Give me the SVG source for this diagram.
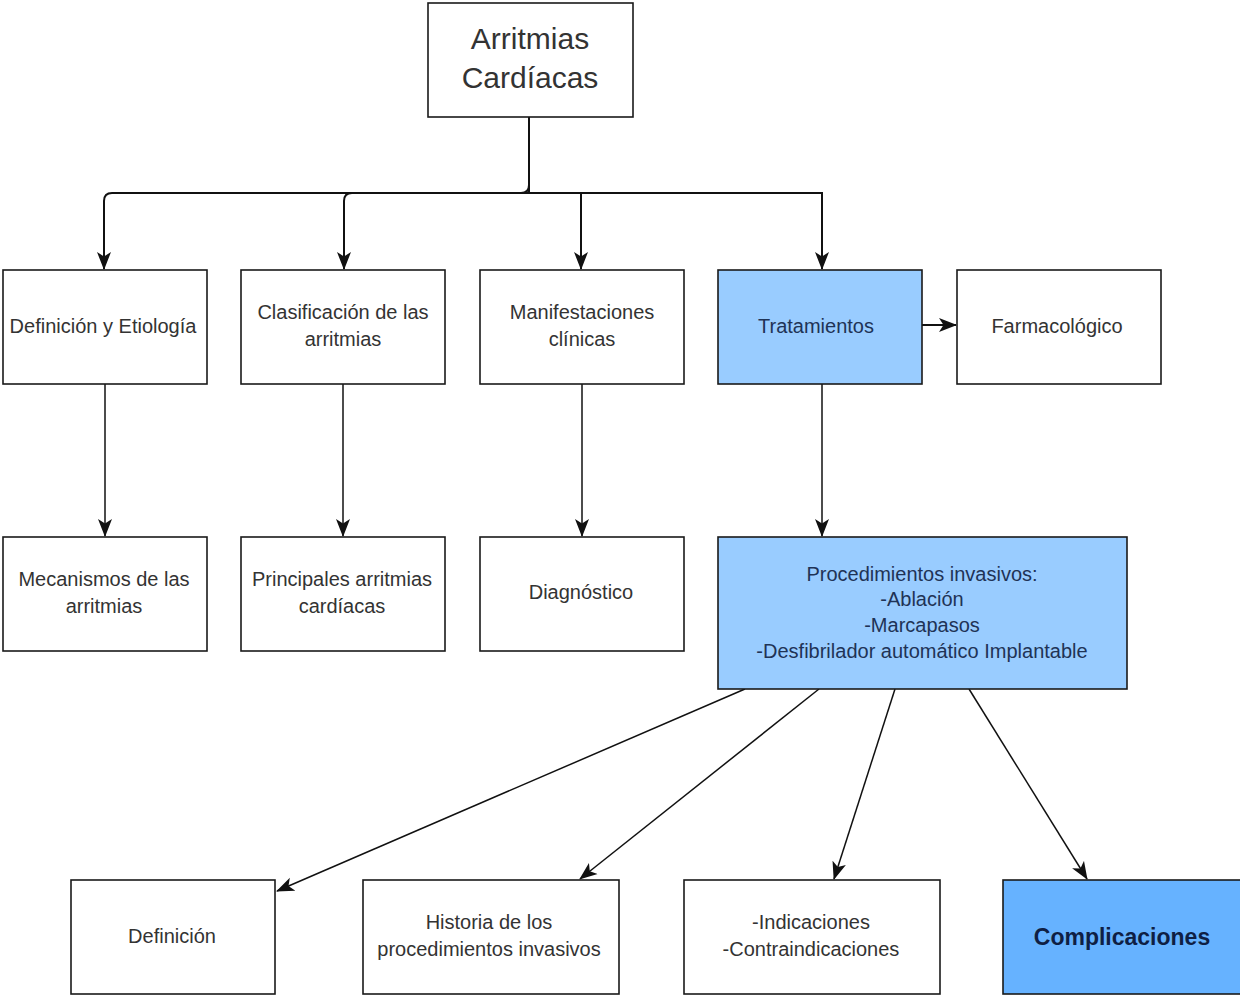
<svg xmlns="http://www.w3.org/2000/svg" width="1240" height="996" viewBox="0 0 1240 996">
<style>
.box{fill:#ffffff;stroke:#1a1a1a;stroke-width:1.6}
.blue{fill:#99ccff;stroke:#1a1a1a;stroke-width:1.6}
.blue2{fill:#66b2ff;stroke:#1a1a1a;stroke-width:1.6}
.t{font-family:"Liberation Sans",Arial,sans-serif;font-size:20px;fill:#333333;text-anchor:middle}
.tb{fill:#1f3356}
.title{font-size:30px}
.bold{font-weight:bold;font-size:23px;fill:#0f1f44}
.edge{fill:none;stroke:#111111;stroke-width:2}
.edge2{fill:none;stroke:#111111;stroke-width:1.5}
</style>
<defs>
<marker id="arr" markerUnits="userSpaceOnUse" markerWidth="18" markerHeight="16" viewBox="0 0 18 16" refX="17" refY="8" orient="auto">
<path d="M0,1 L18,8 L0,15 L4.5,8 z" fill="#111111"/>
</marker>
</defs>
<rect width="1240" height="996" fill="#ffffff"/>
<g id="connectors">
<path class="edge" d="M529,117 V185 Q529,193 521,193 H112 Q104,193 104,201 V269" marker-end="url(#arr)"/>
<path class="edge" d="M529,117 V193 H352 Q344,193 344,201 V269" marker-end="url(#arr)"/>
<path class="edge" d="M529,117 V193 H581 V269" marker-end="url(#arr)"/>
<path class="edge" d="M529,117 V193 H822 V269" marker-end="url(#arr)"/>
<path class="edge" d="M922,325 H956" marker-end="url(#arr)"/>
<path class="edge2" d="M105,384 V536" marker-end="url(#arr)"/>
<path class="edge2" d="M343,384 V536" marker-end="url(#arr)"/>
<path class="edge2" d="M582,384 V536" marker-end="url(#arr)"/>
<path class="edge2" d="M822,384 V536" marker-end="url(#arr)"/>
<path class="edge2" d="M745,689 L277,891" marker-end="url(#arr)"/>
<path class="edge2" d="M819,689 L580,879" marker-end="url(#arr)"/>
<path class="edge2" d="M895,689 L834,879" marker-end="url(#arr)"/>
<path class="edge2" d="M969,689 L1087,879" marker-end="url(#arr)"/>
</g>
<g id="n-root">
<rect class="box" x="428" y="3" width="205" height="114"/>
<text class="t title" x="530" y="49">Arritmias</text>
<text class="t title" x="530" y="88">Cardíacas</text>
</g>
<g id="n-definicion-etiologia">
<rect class="box" x="3" y="270" width="204" height="114"/>
<text class="t" x="103" y="333">Definición y Etiología</text>
</g>
<g id="n-clasificacion">
<rect class="box" x="241" y="270" width="204" height="114"/>
<text class="t" x="343" y="319">Clasificación de las</text>
<text class="t" x="343" y="346">arritmias</text>
</g>
<g id="n-manifestaciones">
<rect class="box" x="480" y="270" width="204" height="114"/>
<text class="t" x="582" y="319">Manifestaciones</text>
<text class="t" x="582" y="346">clínicas</text>
</g>
<g id="n-tratamientos">
<rect class="blue" x="718" y="270" width="204" height="114"/>
<text class="t tb" x="816" y="333">Tratamientos</text>
</g>
<g id="n-farmacologico">
<rect class="box" x="957" y="270" width="204" height="114"/>
<text class="t" x="1057" y="333">Farmacológico</text>
</g>
<g id="n-mecanismos">
<rect class="box" x="3" y="537" width="204" height="114"/>
<text class="t" x="104" y="586">Mecanismos de las</text>
<text class="t" x="104" y="613">arritmias</text>
</g>
<g id="n-principales">
<rect class="box" x="241" y="537" width="204" height="114"/>
<text class="t" x="342" y="586">Principales arritmias</text>
<text class="t" x="342" y="613">cardíacas</text>
</g>
<g id="n-diagnostico">
<rect class="box" x="480" y="537" width="204" height="114"/>
<text class="t" x="581" y="599">Diagnóstico</text>
</g>
<g id="n-procedimientos">
<rect class="blue" x="718" y="537" width="409" height="152"/>
<text class="t tb" x="922" y="581">Procedimientos invasivos:</text>
<text class="t tb" x="922" y="606">-Ablación</text>
<text class="t tb" x="922" y="632">-Marcapasos</text>
<text class="t tb" x="922" y="658">-Desfibrilador automático Implantable</text>
</g>
<g id="n-definicion">
<rect class="box" x="71" y="880" width="204" height="114"/>
<text class="t" x="172" y="943">Definición</text>
</g>
<g id="n-historia">
<rect class="box" x="363" y="880" width="256" height="114"/>
<text class="t" x="489" y="929">Historia de los</text>
<text class="t" x="489" y="956">procedimientos invasivos</text>
</g>
<g id="n-indicaciones">
<rect class="box" x="684" y="880" width="256" height="114"/>
<text class="t" x="811" y="929">-Indicaciones</text>
<text class="t" x="811" y="956">-Contraindicaciones</text>
</g>
<g id="n-complicaciones">
<rect class="blue2" x="1003" y="880" width="240" height="114"/>
<text class="t bold" x="1122" y="945">Complicaciones</text>
</g>
</svg>
